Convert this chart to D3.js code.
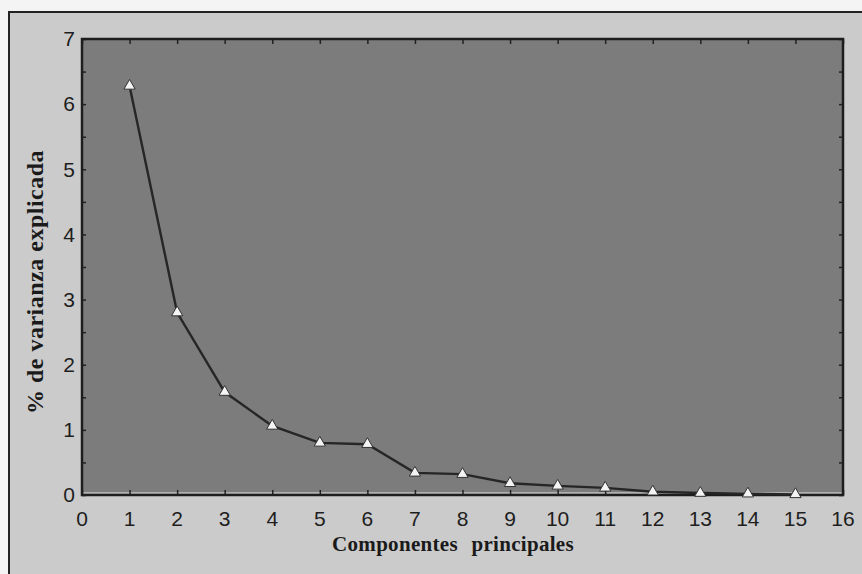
<!DOCTYPE html>
<html>
<head>
<meta charset="utf-8">
<script src="https://cdn.jsdelivr.net/npm/d3@7"></script>
<style>
  body { margin: 0; background: #f4f4f4; }
  .tick-label { font-family: "Liberation Sans", Arial, sans-serif; font-size: 21px; fill: #1e1e1e; }
  .axis-title { font-family: "Liberation Serif", "Times New Roman", serif; font-weight: bold; fill: #1a1a1a; }
</style>
</head>
<body>
<div id="chart"></div>
<script>
// Componentes principales vs % de varianza explicada
const components = [1, 2, 3, 4, 5, 6, 7, 8, 9, 10, 11, 12, 13, 14, 15];
const variance = [6.28, 2.8, 1.58, 1.06, 0.8, 0.78, 0.34, 0.32, 0.18, 0.14, 0.11, 0.05, 0.03, 0.02, 0.01];
const xTicks = d3.range(0, 17);
const yTicks = d3.range(0, 8);

const width = 862, height = 574;
const margin = {top: 39, right: 19, bottom: 79, left: 82};
const innerW = width - margin.left - margin.right;
const innerH = height - margin.top - margin.bottom;

const svg = d3.select('#chart').append('svg')
    .attr('width', width)
    .attr('height', height);

// outer frame
svg.append('rect')
    .attr('x', 9).attr('y', 12)
    .attr('width', width + 10).attr('height', height + 10)
    .attr('fill', '#cbcbcb')
    .attr('stroke', '#222')
    .attr('stroke-width', 2);

const chart = svg.append('g')
    .attr('transform', `translate(${margin.left},${margin.top})`);

const xScale = d3.scaleLinear().domain([0, 16]).range([0, innerW]);
const yScale = d3.scaleLinear().domain([0, 7]).range([innerH, 0]);

// plot area
chart.append('rect')
    .attr('width', innerW).attr('height', innerH)
    .attr('fill', '#7c7c7c');

// light line at zero just above the axis
chart.append('line')
    .attr('x1', 0).attr('x2', innerW)
    .attr('y1', innerH - 2).attr('y2', innerH - 2)
    .attr('stroke', '#e6e6e6').attr('stroke-width', 1.2);

// inward ticks on all four sides
const xAxisB = d3.axisBottom(xScale).tickValues(xTicks).tickSize(-5).tickFormat('');
const xAxisT = d3.axisTop(xScale).tickValues(xTicks).tickSize(-5).tickFormat('');
const yAxisL = d3.axisLeft(yScale).tickValues(d3.range(0, 7.01, 0.5)).tickSize(-4).tickFormat('');
const yAxisR = d3.axisRight(yScale).tickValues(d3.range(0, 7.01, 0.5)).tickSize(-4).tickFormat('');

[chart.append('g').attr('transform', `translate(0,${innerH})`).call(xAxisB),
 chart.append('g').call(xAxisT),
 chart.append('g').call(yAxisL),
 chart.append('g').attr('transform', `translate(${innerW},0)`).call(yAxisR)]
  .forEach(g => {
      g.select('.domain').remove();
      g.selectAll('.tick line').attr('stroke', '#222').attr('stroke-width', 1.5);
  });

// border
chart.append('rect')
    .attr('width', innerW).attr('height', innerH)
    .attr('fill', 'none')
    .attr('stroke', '#1e1e1e')
    .attr('stroke-width', 2.5);

// tick labels
chart.selectAll('.xlab')
    .data(xTicks)
    .join('text')
    .attr('class', 'tick-label')
    .attr('x', d => xScale(d))
    .attr('y', innerH + 31)
    .attr('text-anchor', 'middle')
    .text(d => d);

chart.selectAll('.ylab')
    .data(yTicks)
    .join('text')
    .attr('class', 'tick-label')
    .attr('x', -7)
    .attr('y', d => yScale(d))
    .attr('dy', '0.35em')
    .attr('text-anchor', 'end')
    .text(d => d);

// line and markers
const pts = components.map((c, i) => [c, variance[i]]);

chart.append('path')
    .datum(pts)
    .attr('fill', 'none')
    .attr('stroke', '#262626')
    .attr('stroke-width', 2.4)
    .attr('d', d3.line().x(d => xScale(d[0])).y(d => yScale(d[1])));

chart.selectAll('.marker')
    .data(pts)
    .join('path')
    .attr('class', 'marker')
    .attr('transform', d => `translate(${xScale(d[0])},${yScale(d[1])})`)
    .attr('d', d3.symbol().type(d3.symbolTriangle).size(55))
    .attr('fill', '#f4f4f4')
    .attr('stroke', '#333')
    .attr('stroke-width', 1);

// titles
svg.append('text')
    .attr('class', 'axis-title')
    .attr('x', 453)
    .attr('y', 551)
    .attr('text-anchor', 'middle')
    .style('font-size', '21px')
    .attr('word-spacing', '8px')
    .attr('letter-spacing', '0.3px')
    .text('Componentes principales');

svg.append('text')
    .attr('class', 'axis-title')
    .attr('transform', 'translate(43,282) rotate(-90)')
    .attr('text-anchor', 'middle')
    .style('font-size', '24px')
    .attr('letter-spacing', '0.5px')
    .text('% de varianza explicada');
</script>
</body>
</html>
